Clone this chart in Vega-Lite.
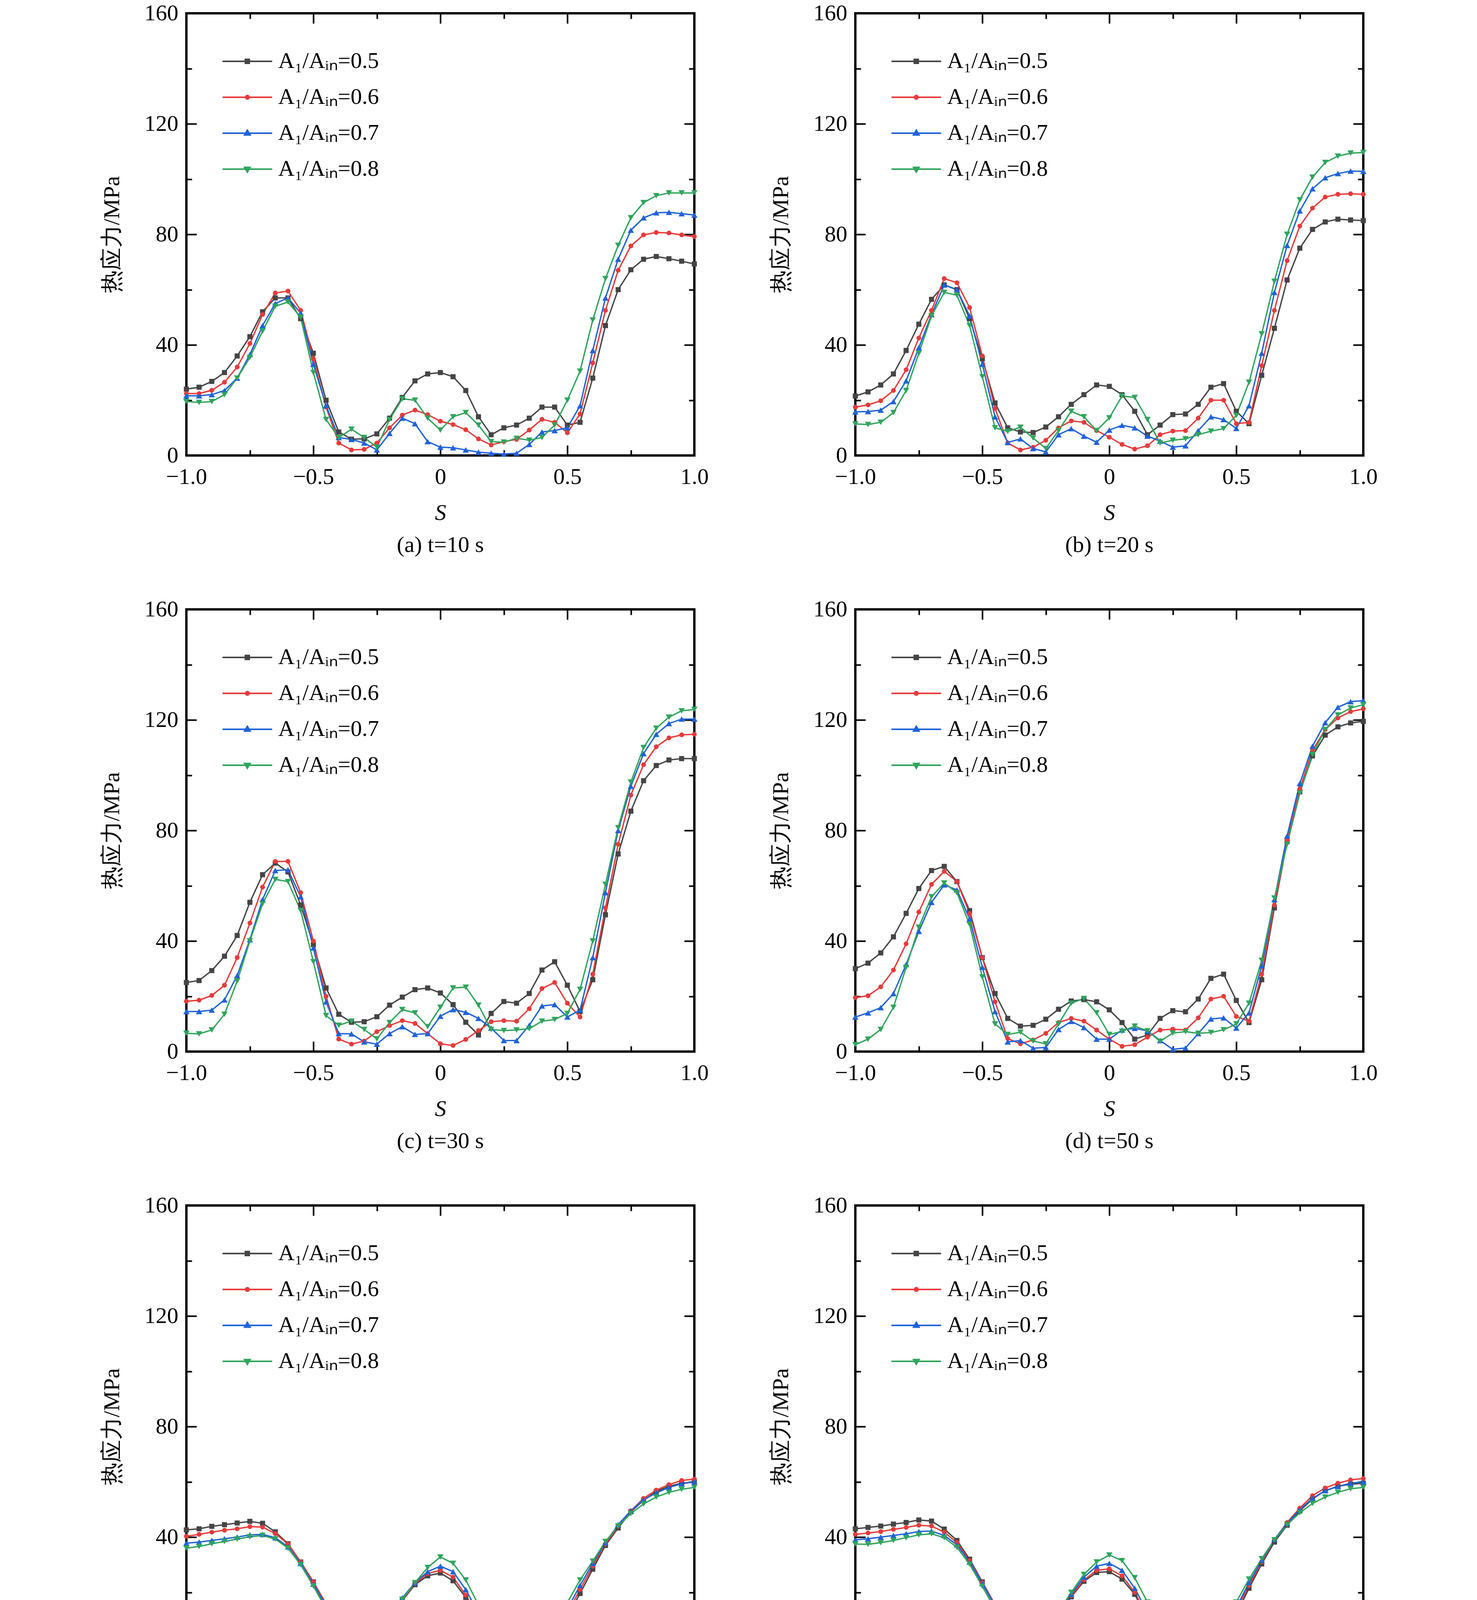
{
  "$schema": "https://vega.github.io/schema/vega-lite/v6.json",
  "background": "white",
  "padding": {"left": 255, "top": 2, "right": 10, "bottom": 0},
  "datasets": {
    "a": [
      {"k":0.5,"s":-1,"v":24},{"k":0.5,"s":-0.95,"v":24.7},{"k":0.5,"s":-0.9,"v":26.8},{"k":0.5,"s":-0.85,"v":30},{"k":0.5,"s":-0.8,"v":36},{"k":0.5,"s":-0.75,"v":43},{"k":0.5,"s":-0.7,"v":52},{"k":0.5,"s":-0.65,"v":57},{"k":0.5,"s":-0.6,"v":57},{"k":0.5,"s":-0.55,"v":49.5},{"k":0.5,"s":-0.5,"v":37},{"k":0.5,"s":-0.45,"v":20},{"k":0.5,"s":-0.4,"v":8.5},{"k":0.5,"s":-0.35,"v":5.9},{"k":0.5,"s":-0.3,"v":6},{"k":0.5,"s":-0.25,"v":7.8},{"k":0.5,"s":-0.2,"v":13.5},{"k":0.5,"s":-0.15,"v":21},{"k":0.5,"s":-0.1,"v":27},{"k":0.5,"s":-0.05,"v":29.5},{"k":0.5,"s":0,"v":30},{"k":0.5,"s":0.05,"v":28.5},{"k":0.5,"s":0.1,"v":23.5},{"k":0.5,"s":0.15,"v":14},{"k":0.5,"s":0.2,"v":7.5},{"k":0.5,"s":0.25,"v":10},{"k":0.5,"s":0.3,"v":11},{"k":0.5,"s":0.35,"v":13.5},{"k":0.5,"s":0.4,"v":17.5},{"k":0.5,"s":0.45,"v":17.5},{"k":0.5,"s":0.5,"v":11},{"k":0.5,"s":0.55,"v":12},{"k":0.5,"s":0.6,"v":28},{"k":0.5,"s":0.65,"v":47},{"k":0.5,"s":0.7,"v":60},{"k":0.5,"s":0.75,"v":67.2},{"k":0.5,"s":0.8,"v":71},{"k":0.5,"s":0.85,"v":72},{"k":0.5,"s":0.9,"v":71.2},{"k":0.5,"s":0.95,"v":70.3},{"k":0.5,"s":1,"v":69.3},
      {"k":0.6,"s":-1,"v":22.4},{"k":0.6,"s":-0.95,"v":22.4},{"k":0.6,"s":-0.9,"v":23.6},{"k":0.6,"s":-0.85,"v":26.5},{"k":0.6,"s":-0.8,"v":32},{"k":0.6,"s":-0.75,"v":40.5},{"k":0.6,"s":-0.7,"v":51},{"k":0.6,"s":-0.65,"v":58.8},{"k":0.6,"s":-0.6,"v":59.5},{"k":0.6,"s":-0.55,"v":52.5},{"k":0.6,"s":-0.5,"v":35},{"k":0.6,"s":-0.45,"v":17.5},{"k":0.6,"s":-0.4,"v":4.5},{"k":0.6,"s":-0.35,"v":2},{"k":0.6,"s":-0.3,"v":2.2},{"k":0.6,"s":-0.25,"v":4.5},{"k":0.6,"s":-0.2,"v":10},{"k":0.6,"s":-0.15,"v":14.6},{"k":0.6,"s":-0.1,"v":16.4},{"k":0.6,"s":-0.05,"v":14.8},{"k":0.6,"s":0,"v":12.4},{"k":0.6,"s":0.05,"v":11.2},{"k":0.6,"s":0.1,"v":9.3},{"k":0.6,"s":0.15,"v":6},{"k":0.6,"s":0.2,"v":3.8},{"k":0.6,"s":0.25,"v":5},{"k":0.6,"s":0.3,"v":5.8},{"k":0.6,"s":0.35,"v":9.2},{"k":0.6,"s":0.4,"v":13.1},{"k":0.6,"s":0.45,"v":12},{"k":0.6,"s":0.5,"v":8.2},{"k":0.6,"s":0.55,"v":15},{"k":0.6,"s":0.6,"v":33.5},{"k":0.6,"s":0.65,"v":52.5},{"k":0.6,"s":0.7,"v":67},{"k":0.6,"s":0.75,"v":75.8},{"k":0.6,"s":0.8,"v":79.8},{"k":0.6,"s":0.85,"v":80.7},{"k":0.6,"s":0.9,"v":80.5},{"k":0.6,"s":0.95,"v":79.8},{"k":0.6,"s":1,"v":79.2},
      {"k":0.7,"s":-1,"v":21.6},{"k":0.7,"s":-0.95,"v":21.6},{"k":0.7,"s":-0.9,"v":22},{"k":0.7,"s":-0.85,"v":23.5},{"k":0.7,"s":-0.8,"v":28},{"k":0.7,"s":-0.75,"v":36.5},{"k":0.7,"s":-0.7,"v":47},{"k":0.7,"s":-0.65,"v":55},{"k":0.7,"s":-0.6,"v":57},{"k":0.7,"s":-0.55,"v":51.5},{"k":0.7,"s":-0.5,"v":33},{"k":0.7,"s":-0.45,"v":18},{"k":0.7,"s":-0.4,"v":6.5},{"k":0.7,"s":-0.35,"v":5.8},{"k":0.7,"s":-0.3,"v":4.5},{"k":0.7,"s":-0.25,"v":2},{"k":0.7,"s":-0.2,"v":8},{"k":0.7,"s":-0.15,"v":13.5},{"k":0.7,"s":-0.1,"v":11.5},{"k":0.7,"s":-0.05,"v":5},{"k":0.7,"s":0,"v":3},{"k":0.7,"s":0.05,"v":2.8},{"k":0.7,"s":0.1,"v":2},{"k":0.7,"s":0.15,"v":1.2},{"k":0.7,"s":0.2,"v":0.8},{"k":0.7,"s":0.25,"v":0.5},{"k":0.7,"s":0.3,"v":0.8},{"k":0.7,"s":0.35,"v":4},{"k":0.7,"s":0.4,"v":8.5},{"k":0.7,"s":0.45,"v":9},{"k":0.7,"s":0.5,"v":10},{"k":0.7,"s":0.55,"v":18},{"k":0.7,"s":0.6,"v":38},{"k":0.7,"s":0.65,"v":57},{"k":0.7,"s":0.7,"v":71},{"k":0.7,"s":0.75,"v":81.5},{"k":0.7,"s":0.8,"v":86},{"k":0.7,"s":0.85,"v":87.8},{"k":0.7,"s":0.9,"v":88},{"k":0.7,"s":0.95,"v":87.5},{"k":0.7,"s":1,"v":87},
      {"k":0.8,"s":-1,"v":19.5},{"k":0.8,"s":-0.95,"v":19.2},{"k":0.8,"s":-0.9,"v":19.5},{"k":0.8,"s":-0.85,"v":22},{"k":0.8,"s":-0.8,"v":28},{"k":0.8,"s":-0.75,"v":35.5},{"k":0.8,"s":-0.7,"v":45},{"k":0.8,"s":-0.65,"v":54},{"k":0.8,"s":-0.6,"v":55.5},{"k":0.8,"s":-0.55,"v":50},{"k":0.8,"s":-0.5,"v":30},{"k":0.8,"s":-0.45,"v":13},{"k":0.8,"s":-0.4,"v":6.5},{"k":0.8,"s":-0.35,"v":9.5},{"k":0.8,"s":-0.3,"v":6.5},{"k":0.8,"s":-0.25,"v":3},{"k":0.8,"s":-0.2,"v":13},{"k":0.8,"s":-0.15,"v":20.5},{"k":0.8,"s":-0.1,"v":20},{"k":0.8,"s":-0.05,"v":13.5},{"k":0.8,"s":0,"v":9.2},{"k":0.8,"s":0.05,"v":14},{"k":0.8,"s":0.1,"v":15.5},{"k":0.8,"s":0.15,"v":11},{"k":0.8,"s":0.2,"v":5},{"k":0.8,"s":0.25,"v":4.8},{"k":0.8,"s":0.3,"v":6.2},{"k":0.8,"s":0.35,"v":5.5},{"k":0.8,"s":0.4,"v":6.5},{"k":0.8,"s":0.45,"v":11},{"k":0.8,"s":0.5,"v":20},{"k":0.8,"s":0.55,"v":30.5},{"k":0.8,"s":0.6,"v":49},{"k":0.8,"s":0.65,"v":64},{"k":0.8,"s":0.7,"v":76},{"k":0.8,"s":0.75,"v":86},{"k":0.8,"s":0.8,"v":91.5},{"k":0.8,"s":0.85,"v":94},{"k":0.8,"s":0.9,"v":95},{"k":0.8,"s":0.95,"v":95},{"k":0.8,"s":1,"v":95}
    ],
    "b": [
      {"k":0.5,"s":-1,"v":21.5},{"k":0.5,"s":-0.95,"v":23},{"k":0.5,"s":-0.9,"v":25.5},{"k":0.5,"s":-0.85,"v":29.5},{"k":0.5,"s":-0.8,"v":38},{"k":0.5,"s":-0.75,"v":47.5},{"k":0.5,"s":-0.7,"v":56.5},{"k":0.5,"s":-0.65,"v":61.7},{"k":0.5,"s":-0.6,"v":60},{"k":0.5,"s":-0.55,"v":49.5},{"k":0.5,"s":-0.5,"v":35},{"k":0.5,"s":-0.45,"v":19},{"k":0.5,"s":-0.4,"v":10},{"k":0.5,"s":-0.35,"v":8.5},{"k":0.5,"s":-0.3,"v":8.3},{"k":0.5,"s":-0.25,"v":10.3},{"k":0.5,"s":-0.2,"v":14},{"k":0.5,"s":-0.15,"v":18.5},{"k":0.5,"s":-0.1,"v":22},{"k":0.5,"s":-0.05,"v":25.5},{"k":0.5,"s":0,"v":25},{"k":0.5,"s":0.05,"v":22},{"k":0.5,"s":0.1,"v":16},{"k":0.5,"s":0.15,"v":7.5},{"k":0.5,"s":0.2,"v":11},{"k":0.5,"s":0.25,"v":14.8},{"k":0.5,"s":0.3,"v":15},{"k":0.5,"s":0.35,"v":18.5},{"k":0.5,"s":0.4,"v":24.7},{"k":0.5,"s":0.45,"v":26},{"k":0.5,"s":0.5,"v":16},{"k":0.5,"s":0.55,"v":11.5},{"k":0.5,"s":0.6,"v":29},{"k":0.5,"s":0.65,"v":46},{"k":0.5,"s":0.7,"v":63.5},{"k":0.5,"s":0.75,"v":75},{"k":0.5,"s":0.8,"v":81.8},{"k":0.5,"s":0.85,"v":84.5},{"k":0.5,"s":0.9,"v":85.5},{"k":0.5,"s":0.95,"v":85.2},{"k":0.5,"s":1,"v":85},
      {"k":0.6,"s":-1,"v":17.5},{"k":0.6,"s":-0.95,"v":18.3},{"k":0.6,"s":-0.9,"v":19.8},{"k":0.6,"s":-0.85,"v":23.5},{"k":0.6,"s":-0.8,"v":31},{"k":0.6,"s":-0.75,"v":42.5},{"k":0.6,"s":-0.7,"v":52.5},{"k":0.6,"s":-0.65,"v":64},{"k":0.6,"s":-0.6,"v":62.5},{"k":0.6,"s":-0.55,"v":53.5},{"k":0.6,"s":-0.5,"v":36},{"k":0.6,"s":-0.45,"v":17},{"k":0.6,"s":-0.4,"v":4.5},{"k":0.6,"s":-0.35,"v":2},{"k":0.6,"s":-0.3,"v":3},{"k":0.6,"s":-0.25,"v":5.5},{"k":0.6,"s":-0.2,"v":10},{"k":0.6,"s":-0.15,"v":12.5},{"k":0.6,"s":-0.1,"v":12},{"k":0.6,"s":-0.05,"v":9},{"k":0.6,"s":0,"v":6.6},{"k":0.6,"s":0.05,"v":4},{"k":0.6,"s":0.1,"v":2.3},{"k":0.6,"s":0.15,"v":3.5},{"k":0.6,"s":0.2,"v":7.5},{"k":0.6,"s":0.25,"v":8.8},{"k":0.6,"s":0.3,"v":9},{"k":0.6,"s":0.35,"v":13.5},{"k":0.6,"s":0.4,"v":20},{"k":0.6,"s":0.45,"v":20},{"k":0.6,"s":0.5,"v":11.5},{"k":0.6,"s":0.55,"v":12},{"k":0.6,"s":0.6,"v":32.5},{"k":0.6,"s":0.65,"v":52.5},{"k":0.6,"s":0.7,"v":70.5},{"k":0.6,"s":0.75,"v":83},{"k":0.6,"s":0.8,"v":89.5},{"k":0.6,"s":0.85,"v":93.5},{"k":0.6,"s":0.9,"v":94.5},{"k":0.6,"s":0.95,"v":94.7},{"k":0.6,"s":1,"v":94.5},
      {"k":0.7,"s":-1,"v":15.8},{"k":0.7,"s":-0.95,"v":15.9},{"k":0.7,"s":-0.9,"v":16.4},{"k":0.7,"s":-0.85,"v":19.5},{"k":0.7,"s":-0.8,"v":27},{"k":0.7,"s":-0.75,"v":39},{"k":0.7,"s":-0.7,"v":51},{"k":0.7,"s":-0.65,"v":61.7},{"k":0.7,"s":-0.6,"v":60},{"k":0.7,"s":-0.55,"v":50.5},{"k":0.7,"s":-0.5,"v":33},{"k":0.7,"s":-0.45,"v":14},{"k":0.7,"s":-0.4,"v":4.7},{"k":0.7,"s":-0.35,"v":6},{"k":0.7,"s":-0.3,"v":2.5},{"k":0.7,"s":-0.25,"v":1.3},{"k":0.7,"s":-0.2,"v":7.5},{"k":0.7,"s":-0.15,"v":9.7},{"k":0.7,"s":-0.1,"v":7},{"k":0.7,"s":-0.05,"v":4.8},{"k":0.7,"s":0,"v":9.2},{"k":0.7,"s":0.05,"v":10.9},{"k":0.7,"s":0.1,"v":10},{"k":0.7,"s":0.15,"v":7},{"k":0.7,"s":0.2,"v":5.2},{"k":0.7,"s":0.25,"v":3},{"k":0.7,"s":0.3,"v":3.5},{"k":0.7,"s":0.35,"v":9},{"k":0.7,"s":0.4,"v":14},{"k":0.7,"s":0.45,"v":13},{"k":0.7,"s":0.5,"v":9.8},{"k":0.7,"s":0.55,"v":18},{"k":0.7,"s":0.6,"v":37},{"k":0.7,"s":0.65,"v":59},{"k":0.7,"s":0.7,"v":76},{"k":0.7,"s":0.75,"v":88.5},{"k":0.7,"s":0.8,"v":96.5},{"k":0.7,"s":0.85,"v":100.5},{"k":0.7,"s":0.9,"v":102},{"k":0.7,"s":0.95,"v":102.9},{"k":0.7,"s":1,"v":102.8},
      {"k":0.8,"s":-1,"v":11.4},{"k":0.8,"s":-0.95,"v":11.2},{"k":0.8,"s":-0.9,"v":12},{"k":0.8,"s":-0.85,"v":15.5},{"k":0.8,"s":-0.8,"v":23.5},{"k":0.8,"s":-0.75,"v":37},{"k":0.8,"s":-0.7,"v":50.5},{"k":0.8,"s":-0.65,"v":59},{"k":0.8,"s":-0.6,"v":58},{"k":0.8,"s":-0.55,"v":47},{"k":0.8,"s":-0.5,"v":28.5},{"k":0.8,"s":-0.45,"v":10},{"k":0.8,"s":-0.4,"v":8.7},{"k":0.8,"s":-0.35,"v":10.2},{"k":0.8,"s":-0.3,"v":6.3},{"k":0.8,"s":-0.25,"v":2.5},{"k":0.8,"s":-0.2,"v":9},{"k":0.8,"s":-0.15,"v":16},{"k":0.8,"s":-0.1,"v":14},{"k":0.8,"s":-0.05,"v":9},{"k":0.8,"s":0,"v":13.6},{"k":0.8,"s":0.05,"v":21.5},{"k":0.8,"s":0.1,"v":21},{"k":0.8,"s":0.15,"v":13},{"k":0.8,"s":0.2,"v":4.5},{"k":0.8,"s":0.25,"v":5.5},{"k":0.8,"s":0.3,"v":6},{"k":0.8,"s":0.35,"v":7.5},{"k":0.8,"s":0.4,"v":8.8},{"k":0.8,"s":0.45,"v":9.7},{"k":0.8,"s":0.5,"v":14.5},{"k":0.8,"s":0.55,"v":26.5},{"k":0.8,"s":0.6,"v":44},{"k":0.8,"s":0.65,"v":63},{"k":0.8,"s":0.7,"v":80},{"k":0.8,"s":0.75,"v":92.5},{"k":0.8,"s":0.8,"v":100.7},{"k":0.8,"s":0.85,"v":106},{"k":0.8,"s":0.9,"v":108.3},{"k":0.8,"s":0.95,"v":109.4},{"k":0.8,"s":1,"v":109.6}
    ],
    "c": [
      {"k":0.5,"s":-1,"v":25},{"k":0.5,"s":-0.95,"v":25.7},{"k":0.5,"s":-0.9,"v":29.3},{"k":0.5,"s":-0.85,"v":34.5},{"k":0.5,"s":-0.8,"v":42},{"k":0.5,"s":-0.75,"v":54},{"k":0.5,"s":-0.7,"v":64},{"k":0.5,"s":-0.65,"v":68.2},{"k":0.5,"s":-0.6,"v":65},{"k":0.5,"s":-0.55,"v":53},{"k":0.5,"s":-0.5,"v":38.7},{"k":0.5,"s":-0.45,"v":23},{"k":0.5,"s":-0.4,"v":13.5},{"k":0.5,"s":-0.35,"v":10.6},{"k":0.5,"s":-0.3,"v":10.8},{"k":0.5,"s":-0.25,"v":12.6},{"k":0.5,"s":-0.2,"v":16.8},{"k":0.5,"s":-0.15,"v":19.7},{"k":0.5,"s":-0.1,"v":22.4},{"k":0.5,"s":-0.05,"v":23},{"k":0.5,"s":0,"v":21.2},{"k":0.5,"s":0.05,"v":17},{"k":0.5,"s":0.1,"v":10.6},{"k":0.5,"s":0.15,"v":6},{"k":0.5,"s":0.2,"v":13.8},{"k":0.5,"s":0.25,"v":18.1},{"k":0.5,"s":0.3,"v":17.5},{"k":0.5,"s":0.35,"v":21},{"k":0.5,"s":0.4,"v":29.5},{"k":0.5,"s":0.45,"v":32.5},{"k":0.5,"s":0.5,"v":24},{"k":0.5,"s":0.55,"v":14.5},{"k":0.5,"s":0.6,"v":26},{"k":0.5,"s":0.65,"v":49.5},{"k":0.5,"s":0.7,"v":71.5},{"k":0.5,"s":0.75,"v":87},{"k":0.5,"s":0.8,"v":98},{"k":0.5,"s":0.85,"v":103.5},{"k":0.5,"s":0.9,"v":105.5},{"k":0.5,"s":0.95,"v":106},{"k":0.5,"s":1,"v":106},
      {"k":0.6,"s":-1,"v":18.2},{"k":0.6,"s":-0.95,"v":18.6},{"k":0.6,"s":-0.9,"v":20.3},{"k":0.6,"s":-0.85,"v":24},{"k":0.6,"s":-0.8,"v":34},{"k":0.6,"s":-0.75,"v":46.5},{"k":0.6,"s":-0.7,"v":59.5},{"k":0.6,"s":-0.65,"v":68.8},{"k":0.6,"s":-0.6,"v":68.8},{"k":0.6,"s":-0.55,"v":57.5},{"k":0.6,"s":-0.5,"v":40},{"k":0.6,"s":-0.45,"v":20},{"k":0.6,"s":-0.4,"v":4.5},{"k":0.6,"s":-0.35,"v":2.7},{"k":0.6,"s":-0.3,"v":3.8},{"k":0.6,"s":-0.25,"v":7.2},{"k":0.6,"s":-0.2,"v":9.4},{"k":0.6,"s":-0.15,"v":11.2},{"k":0.6,"s":-0.1,"v":10.2},{"k":0.6,"s":-0.05,"v":6.5},{"k":0.6,"s":0,"v":2.8},{"k":0.6,"s":0.05,"v":2.2},{"k":0.6,"s":0.1,"v":4.4},{"k":0.6,"s":0.15,"v":7.6},{"k":0.6,"s":0.2,"v":10.8},{"k":0.6,"s":0.25,"v":11.2},{"k":0.6,"s":0.3,"v":11},{"k":0.6,"s":0.35,"v":15.5},{"k":0.6,"s":0.4,"v":22.8},{"k":0.6,"s":0.45,"v":25},{"k":0.6,"s":0.5,"v":17.5},{"k":0.6,"s":0.55,"v":12.5},{"k":0.6,"s":0.6,"v":28},{"k":0.6,"s":0.65,"v":52},{"k":0.6,"s":0.7,"v":75},{"k":0.6,"s":0.75,"v":92.8},{"k":0.6,"s":0.8,"v":103.8},{"k":0.6,"s":0.85,"v":110.3},{"k":0.6,"s":0.9,"v":113.5},{"k":0.6,"s":0.95,"v":114.6},{"k":0.6,"s":1,"v":114.8},
      {"k":0.7,"s":-1,"v":14.5},{"k":0.7,"s":-0.95,"v":14.5},{"k":0.7,"s":-0.9,"v":15},{"k":0.7,"s":-0.85,"v":18.7},{"k":0.7,"s":-0.8,"v":27.5},{"k":0.7,"s":-0.75,"v":40.5},{"k":0.7,"s":-0.7,"v":55},{"k":0.7,"s":-0.65,"v":65.5},{"k":0.7,"s":-0.6,"v":65.8},{"k":0.7,"s":-0.55,"v":56},{"k":0.7,"s":-0.5,"v":37.5},{"k":0.7,"s":-0.45,"v":18},{"k":0.7,"s":-0.4,"v":6.5},{"k":0.7,"s":-0.35,"v":6.4},{"k":0.7,"s":-0.3,"v":3.5},{"k":0.7,"s":-0.25,"v":2.7},{"k":0.7,"s":-0.2,"v":6.5},{"k":0.7,"s":-0.15,"v":9},{"k":0.7,"s":-0.1,"v":6.2},{"k":0.7,"s":-0.05,"v":6.5},{"k":0.7,"s":0,"v":12.8},{"k":0.7,"s":0.05,"v":15.2},{"k":0.7,"s":0.1,"v":14.2},{"k":0.7,"s":0.15,"v":12},{"k":0.7,"s":0.2,"v":8.5},{"k":0.7,"s":0.25,"v":4},{"k":0.7,"s":0.3,"v":4},{"k":0.7,"s":0.35,"v":9.5},{"k":0.7,"s":0.4,"v":16.5},{"k":0.7,"s":0.45,"v":17},{"k":0.7,"s":0.5,"v":12.5},{"k":0.7,"s":0.55,"v":15},{"k":0.7,"s":0.6,"v":34},{"k":0.7,"s":0.65,"v":57.5},{"k":0.7,"s":0.7,"v":80},{"k":0.7,"s":0.75,"v":96},{"k":0.7,"s":0.8,"v":107.8},{"k":0.7,"s":0.85,"v":114.8},{"k":0.7,"s":0.9,"v":118.7},{"k":0.7,"s":0.95,"v":120.3},{"k":0.7,"s":1,"v":120.3},
      {"k":0.8,"s":-1,"v":6.6},{"k":0.8,"s":-0.95,"v":6.4},{"k":0.8,"s":-0.9,"v":7.8},{"k":0.8,"s":-0.85,"v":13.5},{"k":0.8,"s":-0.8,"v":25.5},{"k":0.8,"s":-0.75,"v":40},{"k":0.8,"s":-0.7,"v":53.5},{"k":0.8,"s":-0.65,"v":62.3},{"k":0.8,"s":-0.6,"v":61.5},{"k":0.8,"s":-0.55,"v":51},{"k":0.8,"s":-0.5,"v":32.5},{"k":0.8,"s":-0.45,"v":13},{"k":0.8,"s":-0.4,"v":9.5},{"k":0.8,"s":-0.35,"v":11},{"k":0.8,"s":-0.3,"v":8},{"k":0.8,"s":-0.25,"v":4.6},{"k":0.8,"s":-0.2,"v":10.5},{"k":0.8,"s":-0.15,"v":15.2},{"k":0.8,"s":-0.1,"v":14},{"k":0.8,"s":-0.05,"v":9},{"k":0.8,"s":0,"v":16},{"k":0.8,"s":0.05,"v":23},{"k":0.8,"s":0.1,"v":23.3},{"k":0.8,"s":0.15,"v":16.8},{"k":0.8,"s":0.2,"v":8},{"k":0.8,"s":0.25,"v":7.6},{"k":0.8,"s":0.3,"v":7.8},{"k":0.8,"s":0.35,"v":8.3},{"k":0.8,"s":0.4,"v":11},{"k":0.8,"s":0.45,"v":11.6},{"k":0.8,"s":0.5,"v":13.8},{"k":0.8,"s":0.55,"v":22.5},{"k":0.8,"s":0.6,"v":40},{"k":0.8,"s":0.65,"v":60.5},{"k":0.8,"s":0.7,"v":81},{"k":0.8,"s":0.75,"v":97.5},{"k":0.8,"s":0.8,"v":110},{"k":0.8,"s":0.85,"v":117},{"k":0.8,"s":0.9,"v":121},{"k":0.8,"s":0.95,"v":123.3},{"k":0.8,"s":1,"v":123.8}
    ],
    "d": [
      {"k":0.5,"s":-1,"v":30},{"k":0.5,"s":-0.95,"v":32},{"k":0.5,"s":-0.9,"v":35.7},{"k":0.5,"s":-0.85,"v":41.5},{"k":0.5,"s":-0.8,"v":50},{"k":0.5,"s":-0.75,"v":59},{"k":0.5,"s":-0.7,"v":65.5},{"k":0.5,"s":-0.65,"v":67},{"k":0.5,"s":-0.6,"v":61.5},{"k":0.5,"s":-0.55,"v":51},{"k":0.5,"s":-0.5,"v":34},{"k":0.5,"s":-0.45,"v":21},{"k":0.5,"s":-0.4,"v":12},{"k":0.5,"s":-0.35,"v":9.2},{"k":0.5,"s":-0.3,"v":9.5},{"k":0.5,"s":-0.25,"v":11.7},{"k":0.5,"s":-0.2,"v":15.3},{"k":0.5,"s":-0.15,"v":18.3},{"k":0.5,"s":-0.1,"v":18.8},{"k":0.5,"s":-0.05,"v":18},{"k":0.5,"s":0,"v":15.1},{"k":0.5,"s":0.05,"v":10.5},{"k":0.5,"s":0.1,"v":4.5},{"k":0.5,"s":0.15,"v":6},{"k":0.5,"s":0.2,"v":12},{"k":0.5,"s":0.25,"v":14.8},{"k":0.5,"s":0.3,"v":14.4},{"k":0.5,"s":0.35,"v":19},{"k":0.5,"s":0.4,"v":26.5},{"k":0.5,"s":0.45,"v":28},{"k":0.5,"s":0.5,"v":18.5},{"k":0.5,"s":0.55,"v":10.5},{"k":0.5,"s":0.6,"v":26},{"k":0.5,"s":0.65,"v":52},{"k":0.5,"s":0.7,"v":76},{"k":0.5,"s":0.75,"v":94},{"k":0.5,"s":0.8,"v":107},{"k":0.5,"s":0.85,"v":114.5},{"k":0.5,"s":0.9,"v":117.5},{"k":0.5,"s":0.95,"v":118.9},{"k":0.5,"s":1,"v":119.5},
      {"k":0.6,"s":-1,"v":19.5},{"k":0.6,"s":-0.95,"v":20.2},{"k":0.6,"s":-0.9,"v":23.4},{"k":0.6,"s":-0.85,"v":29.5},{"k":0.6,"s":-0.8,"v":39},{"k":0.6,"s":-0.75,"v":50.5},{"k":0.6,"s":-0.7,"v":60.5},{"k":0.6,"s":-0.65,"v":65.2},{"k":0.6,"s":-0.6,"v":61.5},{"k":0.6,"s":-0.55,"v":50},{"k":0.6,"s":-0.5,"v":34},{"k":0.6,"s":-0.45,"v":18},{"k":0.6,"s":-0.4,"v":4.7},{"k":0.6,"s":-0.35,"v":2.8},{"k":0.6,"s":-0.3,"v":4.2},{"k":0.6,"s":-0.25,"v":6.6},{"k":0.6,"s":-0.2,"v":10.5},{"k":0.6,"s":-0.15,"v":12},{"k":0.6,"s":-0.1,"v":11},{"k":0.6,"s":-0.05,"v":7.8},{"k":0.6,"s":0,"v":4.5},{"k":0.6,"s":0.05,"v":1.9},{"k":0.6,"s":0.1,"v":2.5},{"k":0.6,"s":0.15,"v":5.2},{"k":0.6,"s":0.2,"v":7.8},{"k":0.6,"s":0.25,"v":8.1},{"k":0.6,"s":0.3,"v":7.8},{"k":0.6,"s":0.35,"v":12.2},{"k":0.6,"s":0.4,"v":19},{"k":0.6,"s":0.45,"v":20},{"k":0.6,"s":0.5,"v":12.7},{"k":0.6,"s":0.55,"v":11},{"k":0.6,"s":0.6,"v":28},{"k":0.6,"s":0.65,"v":53},{"k":0.6,"s":0.7,"v":76.5},{"k":0.6,"s":0.75,"v":95},{"k":0.6,"s":0.8,"v":109},{"k":0.6,"s":0.85,"v":116.5},{"k":0.6,"s":0.9,"v":120.7},{"k":0.6,"s":0.95,"v":123},{"k":0.6,"s":1,"v":124},
      {"k":0.7,"s":-1,"v":12.5},{"k":0.7,"s":-0.95,"v":14},{"k":0.7,"s":-0.9,"v":15.9},{"k":0.7,"s":-0.85,"v":21},{"k":0.7,"s":-0.8,"v":31.5},{"k":0.7,"s":-0.75,"v":43.5},{"k":0.7,"s":-0.7,"v":54},{"k":0.7,"s":-0.65,"v":60.3},{"k":0.7,"s":-0.6,"v":58.5},{"k":0.7,"s":-0.55,"v":48},{"k":0.7,"s":-0.5,"v":30.5},{"k":0.7,"s":-0.45,"v":14.5},{"k":0.7,"s":-0.4,"v":3.5},{"k":0.7,"s":-0.35,"v":4},{"k":0.7,"s":-0.3,"v":1.2},{"k":0.7,"s":-0.25,"v":1.5},{"k":0.7,"s":-0.2,"v":8},{"k":0.7,"s":-0.15,"v":10.9},{"k":0.7,"s":-0.1,"v":8.7},{"k":0.7,"s":-0.05,"v":4.5},{"k":0.7,"s":0,"v":4.5},{"k":0.7,"s":0.05,"v":7.8},{"k":0.7,"s":0.1,"v":8.4},{"k":0.7,"s":0.15,"v":7.5},{"k":0.7,"s":0.2,"v":4},{"k":0.7,"s":0.25,"v":0.8},{"k":0.7,"s":0.3,"v":1.3},{"k":0.7,"s":0.35,"v":6.5},{"k":0.7,"s":0.4,"v":11.8},{"k":0.7,"s":0.45,"v":12.2},{"k":0.7,"s":0.5,"v":8.5},{"k":0.7,"s":0.55,"v":14},{"k":0.7,"s":0.6,"v":31},{"k":0.7,"s":0.65,"v":55},{"k":0.7,"s":0.7,"v":78},{"k":0.7,"s":0.75,"v":97},{"k":0.7,"s":0.8,"v":110.5},{"k":0.7,"s":0.85,"v":119},{"k":0.7,"s":0.9,"v":124.6},{"k":0.7,"s":0.95,"v":126.6},{"k":0.7,"s":1,"v":127},
      {"k":0.8,"s":-1,"v":2.5},{"k":0.8,"s":-0.95,"v":4.5},{"k":0.8,"s":-0.9,"v":8},{"k":0.8,"s":-0.85,"v":16},{"k":0.8,"s":-0.8,"v":30.5},{"k":0.8,"s":-0.75,"v":45},{"k":0.8,"s":-0.7,"v":56},{"k":0.8,"s":-0.65,"v":61},{"k":0.8,"s":-0.6,"v":57.5},{"k":0.8,"s":-0.55,"v":46},{"k":0.8,"s":-0.5,"v":27},{"k":0.8,"s":-0.45,"v":10},{"k":0.8,"s":-0.4,"v":6.2},{"k":0.8,"s":-0.35,"v":7},{"k":0.8,"s":-0.3,"v":3.8},{"k":0.8,"s":-0.25,"v":2.8},{"k":0.8,"s":-0.2,"v":10},{"k":0.8,"s":-0.15,"v":17.5},{"k":0.8,"s":-0.1,"v":19.2},{"k":0.8,"s":-0.05,"v":14},{"k":0.8,"s":0,"v":6.2},{"k":0.8,"s":0.05,"v":7.3},{"k":0.8,"s":0.1,"v":9.2},{"k":0.8,"s":0.15,"v":7.5},{"k":0.8,"s":0.2,"v":3.7},{"k":0.8,"s":0.25,"v":6.7},{"k":0.8,"s":0.3,"v":7.2},{"k":0.8,"s":0.35,"v":6.6},{"k":0.8,"s":0.4,"v":6.9},{"k":0.8,"s":0.45,"v":7.9},{"k":0.8,"s":0.5,"v":10},{"k":0.8,"s":0.55,"v":17.5},{"k":0.8,"s":0.6,"v":33},{"k":0.8,"s":0.65,"v":55.5},{"k":0.8,"s":0.7,"v":75},{"k":0.8,"s":0.75,"v":93.5},{"k":0.8,"s":0.8,"v":107.5},{"k":0.8,"s":0.85,"v":116.5},{"k":0.8,"s":0.9,"v":121.8},{"k":0.8,"s":0.95,"v":124.3},{"k":0.8,"s":1,"v":125.5}
    ],
    "e": [
      {"k":0.5,"s":-1,"v":42.6},{"k":0.5,"s":-0.95,"v":43},{"k":0.5,"s":-0.9,"v":43.9},{"k":0.5,"s":-0.85,"v":44.5},{"k":0.5,"s":-0.8,"v":45.1},{"k":0.5,"s":-0.75,"v":45.7},{"k":0.5,"s":-0.7,"v":45},{"k":0.5,"s":-0.65,"v":41.9},{"k":0.5,"s":-0.6,"v":37.6},{"k":0.5,"s":-0.55,"v":31},{"k":0.5,"s":-0.5,"v":23.8},{"k":0.5,"s":-0.45,"v":15.8},{"k":0.5,"s":-0.4,"v":7.5},{"k":0.5,"s":-0.35,"v":3.8},{"k":0.5,"s":-0.3,"v":4},{"k":0.5,"s":-0.25,"v":5.7},{"k":0.5,"s":-0.2,"v":10.6},{"k":0.5,"s":-0.15,"v":17},{"k":0.5,"s":-0.1,"v":22.8},{"k":0.5,"s":-0.05,"v":26},{"k":0.5,"s":0,"v":27},{"k":0.5,"s":0.05,"v":24.2},{"k":0.5,"s":0.1,"v":18.2},{"k":0.5,"s":0.15,"v":10.5},{"k":0.5,"s":0.2,"v":4},{"k":0.5,"s":0.25,"v":2},{"k":0.5,"s":0.3,"v":3.2},{"k":0.5,"s":0.35,"v":5},{"k":0.5,"s":0.4,"v":4.7},{"k":0.5,"s":0.45,"v":4.8},{"k":0.5,"s":0.5,"v":11.3},{"k":0.5,"s":0.55,"v":19.6},{"k":0.5,"s":0.6,"v":28.4},{"k":0.5,"s":0.65,"v":37},{"k":0.5,"s":0.7,"v":43.3},{"k":0.5,"s":0.75,"v":49.2},{"k":0.5,"s":0.8,"v":53.3},{"k":0.5,"s":0.85,"v":56.5},{"k":0.5,"s":0.9,"v":58.4},{"k":0.5,"s":0.95,"v":59.5},{"k":0.5,"s":1,"v":60},
      {"k":0.6,"s":-1,"v":40.3},{"k":0.6,"s":-0.95,"v":41},{"k":0.6,"s":-0.9,"v":41.8},{"k":0.6,"s":-0.85,"v":42.5},{"k":0.6,"s":-0.8,"v":43},{"k":0.6,"s":-0.75,"v":43.8},{"k":0.6,"s":-0.7,"v":43.6},{"k":0.6,"s":-0.65,"v":41.3},{"k":0.6,"s":-0.6,"v":37.5},{"k":0.6,"s":-0.55,"v":31},{"k":0.6,"s":-0.5,"v":23.8},{"k":0.6,"s":-0.45,"v":15.5},{"k":0.6,"s":-0.4,"v":7.3},{"k":0.6,"s":-0.35,"v":3.5},{"k":0.6,"s":-0.3,"v":3.8},{"k":0.6,"s":-0.25,"v":5.7},{"k":0.6,"s":-0.2,"v":10.8},{"k":0.6,"s":-0.15,"v":17.3},{"k":0.6,"s":-0.1,"v":23.2},{"k":0.6,"s":-0.05,"v":26.8},{"k":0.6,"s":0,"v":28},{"k":0.6,"s":0.05,"v":25.5},{"k":0.6,"s":0.1,"v":19},{"k":0.6,"s":0.15,"v":11},{"k":0.6,"s":0.2,"v":3.5},{"k":0.6,"s":0.25,"v":1},{"k":0.6,"s":0.3,"v":1.7},{"k":0.6,"s":0.35,"v":3},{"k":0.6,"s":0.4,"v":3},{"k":0.6,"s":0.45,"v":4},{"k":0.6,"s":0.5,"v":12.5},{"k":0.6,"s":0.55,"v":21},{"k":0.6,"s":0.6,"v":29.5},{"k":0.6,"s":0.65,"v":37.5},{"k":0.6,"s":0.7,"v":44},{"k":0.6,"s":0.75,"v":49.5},{"k":0.6,"s":0.8,"v":54},{"k":0.6,"s":0.85,"v":57},{"k":0.6,"s":0.9,"v":59},{"k":0.6,"s":0.95,"v":60.5},{"k":0.6,"s":1,"v":61},
      {"k":0.7,"s":-1,"v":37.8},{"k":0.7,"s":-0.95,"v":38.2},{"k":0.7,"s":-0.9,"v":38.8},{"k":0.7,"s":-0.85,"v":39.4},{"k":0.7,"s":-0.8,"v":40},{"k":0.7,"s":-0.75,"v":40.8},{"k":0.7,"s":-0.7,"v":41},{"k":0.7,"s":-0.65,"v":39.8},{"k":0.7,"s":-0.6,"v":36.5},{"k":0.7,"s":-0.55,"v":30.5},{"k":0.7,"s":-0.5,"v":23},{"k":0.7,"s":-0.45,"v":15},{"k":0.7,"s":-0.4,"v":7},{"k":0.7,"s":-0.35,"v":3},{"k":0.7,"s":-0.3,"v":3.5},{"k":0.7,"s":-0.25,"v":5.5},{"k":0.7,"s":-0.2,"v":11},{"k":0.7,"s":-0.15,"v":18},{"k":0.7,"s":-0.1,"v":23.5},{"k":0.7,"s":-0.05,"v":27.5},{"k":0.7,"s":0,"v":29.5},{"k":0.7,"s":0.05,"v":27.5},{"k":0.7,"s":0.1,"v":21},{"k":0.7,"s":0.15,"v":12.5},{"k":0.7,"s":0.2,"v":5.5},{"k":0.7,"s":0.25,"v":1.5},{"k":0.7,"s":0.3,"v":1},{"k":0.7,"s":0.35,"v":1.3},{"k":0.7,"s":0.4,"v":1.5},{"k":0.7,"s":0.45,"v":5},{"k":0.7,"s":0.5,"v":14},{"k":0.7,"s":0.55,"v":22.5},{"k":0.7,"s":0.6,"v":30.5},{"k":0.7,"s":0.65,"v":38},{"k":0.7,"s":0.7,"v":44.5},{"k":0.7,"s":0.75,"v":49.5},{"k":0.7,"s":0.8,"v":53.5},{"k":0.7,"s":0.85,"v":56},{"k":0.7,"s":0.9,"v":58},{"k":0.7,"s":0.95,"v":59.3},{"k":0.7,"s":1,"v":60},
      {"k":0.8,"s":-1,"v":36},{"k":0.8,"s":-0.95,"v":36.6},{"k":0.8,"s":-0.9,"v":37.6},{"k":0.8,"s":-0.85,"v":38.4},{"k":0.8,"s":-0.8,"v":39.3},{"k":0.8,"s":-0.75,"v":40.1},{"k":0.8,"s":-0.7,"v":40.6},{"k":0.8,"s":-0.65,"v":39.3},{"k":0.8,"s":-0.6,"v":36},{"k":0.8,"s":-0.55,"v":30},{"k":0.8,"s":-0.5,"v":22.3},{"k":0.8,"s":-0.45,"v":14},{"k":0.8,"s":-0.4,"v":6.5},{"k":0.8,"s":-0.35,"v":3},{"k":0.8,"s":-0.3,"v":3.6},{"k":0.8,"s":-0.25,"v":6},{"k":0.8,"s":-0.2,"v":11.5},{"k":0.8,"s":-0.15,"v":17.5},{"k":0.8,"s":-0.1,"v":23.5},{"k":0.8,"s":-0.05,"v":29},{"k":0.8,"s":0,"v":32.8},{"k":0.8,"s":0.05,"v":30.5},{"k":0.8,"s":0.1,"v":24.5},{"k":0.8,"s":0.15,"v":15.5},{"k":0.8,"s":0.2,"v":8.5},{"k":0.8,"s":0.25,"v":3},{"k":0.8,"s":0.3,"v":1.9},{"k":0.8,"s":0.35,"v":1.9},{"k":0.8,"s":0.4,"v":2},{"k":0.8,"s":0.45,"v":8.5},{"k":0.8,"s":0.5,"v":16.3},{"k":0.8,"s":0.55,"v":24.5},{"k":0.8,"s":0.6,"v":31.3},{"k":0.8,"s":0.65,"v":38.4},{"k":0.8,"s":0.7,"v":44},{"k":0.8,"s":0.75,"v":48.5},{"k":0.8,"s":0.8,"v":52},{"k":0.8,"s":0.85,"v":54.5},{"k":0.8,"s":0.9,"v":56.2},{"k":0.8,"s":0.95,"v":57.3},{"k":0.8,"s":1,"v":58}
    ],
    "f": [
      {"k":0.5,"s":-1,"v":43},{"k":0.5,"s":-0.95,"v":43.5},{"k":0.5,"s":-0.9,"v":44},{"k":0.5,"s":-0.85,"v":44.7},{"k":0.5,"s":-0.8,"v":45.3},{"k":0.5,"s":-0.75,"v":46.2},{"k":0.5,"s":-0.7,"v":45.8},{"k":0.5,"s":-0.65,"v":42.9},{"k":0.5,"s":-0.6,"v":38.8},{"k":0.5,"s":-0.55,"v":32},{"k":0.5,"s":-0.5,"v":23.8},{"k":0.5,"s":-0.45,"v":15.5},{"k":0.5,"s":-0.4,"v":7.4},{"k":0.5,"s":-0.35,"v":4.3},{"k":0.5,"s":-0.3,"v":4.8},{"k":0.5,"s":-0.25,"v":6.6},{"k":0.5,"s":-0.2,"v":11.5},{"k":0.5,"s":-0.15,"v":18.4},{"k":0.5,"s":-0.1,"v":24},{"k":0.5,"s":-0.05,"v":27.2},{"k":0.5,"s":0,"v":27.5},{"k":0.5,"s":0.05,"v":24.8},{"k":0.5,"s":0.1,"v":19.3},{"k":0.5,"s":0.15,"v":10.5},{"k":0.5,"s":0.2,"v":4.2},{"k":0.5,"s":0.25,"v":1.9},{"k":0.5,"s":0.3,"v":4.3},{"k":0.5,"s":0.35,"v":5.6},{"k":0.5,"s":0.4,"v":5.4},{"k":0.5,"s":0.45,"v":5.5},{"k":0.5,"s":0.5,"v":12.2},{"k":0.5,"s":0.55,"v":21.5},{"k":0.5,"s":0.6,"v":30.3},{"k":0.5,"s":0.65,"v":38.2},{"k":0.5,"s":0.7,"v":44.3},{"k":0.5,"s":0.75,"v":49.5},{"k":0.5,"s":0.8,"v":53.8},{"k":0.5,"s":0.85,"v":56.8},{"k":0.5,"s":0.9,"v":58.4},{"k":0.5,"s":0.95,"v":59.1},{"k":0.5,"s":1,"v":59.5},
      {"k":0.6,"s":-1,"v":41},{"k":0.6,"s":-0.95,"v":41.5},{"k":0.6,"s":-0.9,"v":42},{"k":0.6,"s":-0.85,"v":42.8},{"k":0.6,"s":-0.8,"v":43.5},{"k":0.6,"s":-0.75,"v":44.3},{"k":0.6,"s":-0.7,"v":44},{"k":0.6,"s":-0.65,"v":41.8},{"k":0.6,"s":-0.6,"v":38},{"k":0.6,"s":-0.55,"v":31.5},{"k":0.6,"s":-0.5,"v":23.5},{"k":0.6,"s":-0.45,"v":15.3},{"k":0.6,"s":-0.4,"v":7.2},{"k":0.6,"s":-0.35,"v":4},{"k":0.6,"s":-0.3,"v":4.5},{"k":0.6,"s":-0.25,"v":6.5},{"k":0.6,"s":-0.2,"v":11.7},{"k":0.6,"s":-0.15,"v":18.8},{"k":0.6,"s":-0.1,"v":24.5},{"k":0.6,"s":-0.05,"v":28},{"k":0.6,"s":0,"v":28.5},{"k":0.6,"s":0.05,"v":26},{"k":0.6,"s":0.1,"v":20},{"k":0.6,"s":0.15,"v":11.3},{"k":0.6,"s":0.2,"v":4},{"k":0.6,"s":0.25,"v":1.2},{"k":0.6,"s":0.3,"v":2},{"k":0.6,"s":0.35,"v":3.5},{"k":0.6,"s":0.4,"v":3.6},{"k":0.6,"s":0.45,"v":4.5},{"k":0.6,"s":0.5,"v":13.5},{"k":0.6,"s":0.55,"v":22.5},{"k":0.6,"s":0.6,"v":31},{"k":0.6,"s":0.65,"v":39},{"k":0.6,"s":0.7,"v":45.3},{"k":0.6,"s":0.75,"v":50.5},{"k":0.6,"s":0.8,"v":55},{"k":0.6,"s":0.85,"v":57.8},{"k":0.6,"s":0.9,"v":59.5},{"k":0.6,"s":0.95,"v":60.7},{"k":0.6,"s":1,"v":61.2},
      {"k":0.7,"s":-1,"v":39},{"k":0.7,"s":-0.95,"v":39.4},{"k":0.7,"s":-0.9,"v":40},{"k":0.7,"s":-0.85,"v":40.6},{"k":0.7,"s":-0.8,"v":41.2},{"k":0.7,"s":-0.75,"v":42},{"k":0.7,"s":-0.7,"v":42.2},{"k":0.7,"s":-0.65,"v":40.6},{"k":0.7,"s":-0.6,"v":37.2},{"k":0.7,"s":-0.55,"v":31},{"k":0.7,"s":-0.5,"v":23.2},{"k":0.7,"s":-0.45,"v":15},{"k":0.7,"s":-0.4,"v":7},{"k":0.7,"s":-0.35,"v":3.7},{"k":0.7,"s":-0.3,"v":4.3},{"k":0.7,"s":-0.25,"v":6.5},{"k":0.7,"s":-0.2,"v":12},{"k":0.7,"s":-0.15,"v":19.3},{"k":0.7,"s":-0.1,"v":25.5},{"k":0.7,"s":-0.05,"v":29.5},{"k":0.7,"s":0,"v":30.5},{"k":0.7,"s":0.05,"v":28},{"k":0.7,"s":0.1,"v":21.5},{"k":0.7,"s":0.15,"v":12.8},{"k":0.7,"s":0.2,"v":5},{"k":0.7,"s":0.25,"v":1},{"k":0.7,"s":0.3,"v":1},{"k":0.7,"s":0.35,"v":1.2},{"k":0.7,"s":0.4,"v":1.8},{"k":0.7,"s":0.45,"v":5.5},{"k":0.7,"s":0.5,"v":14.5},{"k":0.7,"s":0.55,"v":23.5},{"k":0.7,"s":0.6,"v":31.5},{"k":0.7,"s":0.65,"v":39.2},{"k":0.7,"s":0.7,"v":45},{"k":0.7,"s":0.75,"v":50},{"k":0.7,"s":0.8,"v":54},{"k":0.7,"s":0.85,"v":56.8},{"k":0.7,"s":0.9,"v":58.3},{"k":0.7,"s":0.95,"v":59.5},{"k":0.7,"s":1,"v":60},
      {"k":0.8,"s":-1,"v":37.5},{"k":0.8,"s":-0.95,"v":37.4},{"k":0.8,"s":-0.9,"v":38},{"k":0.8,"s":-0.85,"v":38.8},{"k":0.8,"s":-0.8,"v":39.8},{"k":0.8,"s":-0.75,"v":40.8},{"k":0.8,"s":-0.7,"v":41.2},{"k":0.8,"s":-0.65,"v":39.8},{"k":0.8,"s":-0.6,"v":36.3},{"k":0.8,"s":-0.55,"v":30.2},{"k":0.8,"s":-0.5,"v":22.2},{"k":0.8,"s":-0.45,"v":13.8},{"k":0.8,"s":-0.4,"v":6.2},{"k":0.8,"s":-0.35,"v":3},{"k":0.8,"s":-0.3,"v":4},{"k":0.8,"s":-0.25,"v":6.8},{"k":0.8,"s":-0.2,"v":13},{"k":0.8,"s":-0.15,"v":20},{"k":0.8,"s":-0.1,"v":26.5},{"k":0.8,"s":-0.05,"v":31},{"k":0.8,"s":0,"v":33.5},{"k":0.8,"s":0.05,"v":31.5},{"k":0.8,"s":0.1,"v":25.3},{"k":0.8,"s":0.15,"v":16.5},{"k":0.8,"s":0.2,"v":8.5},{"k":0.8,"s":0.25,"v":3},{"k":0.8,"s":0.3,"v":2},{"k":0.8,"s":0.35,"v":1.8},{"k":0.8,"s":0.4,"v":2.5},{"k":0.8,"s":0.45,"v":8.5},{"k":0.8,"s":0.5,"v":16.5},{"k":0.8,"s":0.55,"v":24.8},{"k":0.8,"s":0.6,"v":32.2},{"k":0.8,"s":0.65,"v":39},{"k":0.8,"s":0.7,"v":44.5},{"k":0.8,"s":0.75,"v":48.8},{"k":0.8,"s":0.8,"v":52.2},{"k":0.8,"s":0.85,"v":54.5},{"k":0.8,"s":0.9,"v":56.2},{"k":0.8,"s":0.95,"v":57.5},{"k":0.8,"s":1,"v":58}
    ]
  },
  "config": {
    "font": "Liberation Serif",
    "view": {"stroke": "#000000", "strokeWidth": 6},
    "axis": {
      "domain": false, "grid": false,
      "labelFont": "Liberation Serif", "labelFontSize": 58, "labelColor": "#000000",
      "titleFont": "Liberation Serif", "titleFontSize": 58, "titleFontWeight": "normal", "titleColor": "#000000",
      "tickColor": "#000000", "tickWidth": 4, "labelOverlap": false, "labelFlush": false
    },
    "axisX": {"labelPadding": 52, "titlePadding": 22, "titleFontStyle": "italic"},
    "axisY": {"labelPadding": 47, "titlePadding": 53},
    "title": {"orient": "bottom", "frame": "group", "anchor": "middle", "font": "Liberation Serif", "fontSize": 58, "fontWeight": "normal", "color": "#000000", "offset": 25},
    "legend": {"padding": 0, "labelFont": "Liberation Serif", "labelFontSize": 58, "labelColor": "#000000", "labelOffset": 50, "rowPadding": 34, "symbolSize": 400, "symbolStrokeWidth": 4, "labelLimit": 0}
  },
  "spacing": 100,
  "resolve": {"scale": {"color": "independent", "stroke": "independent", "shape": "independent"}},
  "vconcat": [
    {
      "spacing": 150,
      "resolve": {"scale": {"color": "independent", "stroke": "independent", "shape": "independent"}},
      "hconcat": [
        {
          "data": {"name": "a"},
          "width": 1300, "height": 1132,
          "title": "(a) t=10 s",
          "encoding": {
            "x": {"field": "s", "type": "quantitative", "scale": {"domain": [-1, 1], "nice": false}, "axis": null},
            "y": {"field": "v", "type": "quantitative", "scale": {"domain": [0, 160], "nice": false}, "axis": null},
            "color": {"field": "k", "type": "nominal", "scale": {"domain": [0.5, 0.6, 0.7, 0.8], "range": ["#454545", "#e83a3a", "#1f63d9", "#2fa55c"]}, "legend": {"title": null, "orient": "none", "legendX": 127, "legendY": 94, "labelExpr": "'A₁/Aᵢₙ=' + datum.label"}}
          },
          "layer": [
            {"mark": {"type": "line", "strokeWidth": 3.5},
             "encoding": {
               "x": {"field": "s", "type": "quantitative", "scale": {"domain": [-1, 1], "nice": false}, "title": "S", "axis": {"orient": "bottom", "values": [-1, -0.75, -0.5, -0.25, 0, 0.25, 0.5, 0.75, 1], "labelExpr": "datum.value % 0.5 != 0 ? '' : datum.value == 0 ? '0' : format(datum.value, '.1f')", "tickSize": {"condition": {"test": "datum.value % 0.5 != 0", "value": -14}, "value": -26}}},
               "y": {"field": "v", "type": "quantitative", "scale": {"domain": [0, 160], "nice": false}, "title": "热应力/MPa", "axis": {"orient": "left", "values": [0, 20, 40, 60, 80, 100, 120, 140, 160], "labelExpr": "datum.value % 40 != 0 ? '' : datum.label", "tickSize": {"condition": {"test": "datum.value % 40 != 0", "value": -14}, "value": -26}}}
             }},
            {"transform": [{"filter": "datum.k == 0.5"}], "mark": {"type": "point", "shape": "square", "filled": true, "size": 170, "opacity": 1}},
            {"transform": [{"filter": "datum.k == 0.6"}], "mark": {"type": "point", "shape": "circle", "filled": true, "size": 150, "opacity": 1}},
            {"transform": [{"filter": "datum.k == 0.7"}], "mark": {"type": "point", "shape": "triangle-up", "filled": true, "size": 260, "opacity": 1}},
            {"transform": [{"filter": "datum.k == 0.8"}], "mark": {"type": "point", "shape": "triangle-down", "filled": true, "size": 260, "opacity": 1}},
            {"transform": [{"filter": "datum.s > 5"}], "mark": {"type": "point", "filled": true, "size": 400, "opacity": 1, "strokeWidth": 4},
             "encoding": {
               "x": {"field": "s", "type": "quantitative", "scale": {"domain": [-1, 1], "nice": false}, "axis": {"orient": "top", "labels": false, "title": null, "values": [-1, -0.75, -0.5, -0.25, 0, 0.25, 0.5, 0.75, 1], "tickSize": {"condition": {"test": "datum.value % 0.5 != 0", "value": -14}, "value": -26}}},
               "y": {"field": "v", "type": "quantitative", "scale": {"domain": [0, 160], "nice": false}, "axis": {"orient": "right", "labels": false, "title": null, "values": [0, 20, 40, 60, 80, 100, 120, 140, 160], "tickSize": {"condition": {"test": "datum.value % 40 != 0", "value": -14}, "value": -26}}},
               "stroke": {"field": "k", "type": "nominal", "scale": {"domain": [0.5, 0.6, 0.7, 0.8], "range": ["#454545", "#e83a3a", "#1f63d9", "#2fa55c"]}, "legend": {"title": null, "orient": "none", "legendX": 127, "legendY": 94, "labelExpr": "'A₁/Aᵢₙ=' + datum.label"}},
               "shape": {"field": "k", "type": "nominal", "scale": {"domain": [0.5, 0.6, 0.7, 0.8], "range": ["M-6.35,0H6.35M-0.5,-0.5H0.5V0.5H-0.5Z", "M-6.35,0H6.35M-0.45,0A0.45,0.45 0 1,0 0.45,0A0.45,0.45 0 1,0 -0.45,0Z", "M-6.35,0H6.35M0,-0.75L0.7,0.45H-0.7Z", "M-6.35,0H6.35M0,0.75L0.7,-0.45H-0.7Z"]}, "legend": {"title": null, "orient": "none", "legendX": 127, "legendY": 94, "labelExpr": "'A₁/Aᵢₙ=' + datum.label"}}
             }}
          ],
          "resolve": {"axis": {"x": "independent", "y": "independent"}}
        },
        {
          "data": {"name": "b"},
          "width": 1300, "height": 1132,
          "title": "(b) t=20 s",
          "encoding": {
            "x": {"field": "s", "type": "quantitative", "scale": {"domain": [-1, 1], "nice": false}, "axis": null},
            "y": {"field": "v", "type": "quantitative", "scale": {"domain": [0, 160], "nice": false}, "axis": null},
            "color": {"field": "k", "type": "nominal", "scale": {"domain": [0.5, 0.6, 0.7, 0.8], "range": ["#454545", "#e83a3a", "#1f63d9", "#2fa55c"]}, "legend": {"title": null, "orient": "none", "legendX": 127, "legendY": 94, "labelExpr": "'A₁/Aᵢₙ=' + datum.label"}}
          },
          "layer": [
            {"mark": {"type": "line", "strokeWidth": 3.5},
             "encoding": {
               "x": {"field": "s", "type": "quantitative", "scale": {"domain": [-1, 1], "nice": false}, "title": "S", "axis": {"orient": "bottom", "values": [-1, -0.75, -0.5, -0.25, 0, 0.25, 0.5, 0.75, 1], "labelExpr": "datum.value % 0.5 != 0 ? '' : datum.value == 0 ? '0' : format(datum.value, '.1f')", "tickSize": {"condition": {"test": "datum.value % 0.5 != 0", "value": -14}, "value": -26}}},
               "y": {"field": "v", "type": "quantitative", "scale": {"domain": [0, 160], "nice": false}, "title": "热应力/MPa", "axis": {"orient": "left", "values": [0, 20, 40, 60, 80, 100, 120, 140, 160], "labelExpr": "datum.value % 40 != 0 ? '' : datum.label", "tickSize": {"condition": {"test": "datum.value % 40 != 0", "value": -14}, "value": -26}}}
             }},
            {"transform": [{"filter": "datum.k == 0.5"}], "mark": {"type": "point", "shape": "square", "filled": true, "size": 170, "opacity": 1}},
            {"transform": [{"filter": "datum.k == 0.6"}], "mark": {"type": "point", "shape": "circle", "filled": true, "size": 150, "opacity": 1}},
            {"transform": [{"filter": "datum.k == 0.7"}], "mark": {"type": "point", "shape": "triangle-up", "filled": true, "size": 260, "opacity": 1}},
            {"transform": [{"filter": "datum.k == 0.8"}], "mark": {"type": "point", "shape": "triangle-down", "filled": true, "size": 260, "opacity": 1}},
            {"transform": [{"filter": "datum.s > 5"}], "mark": {"type": "point", "filled": true, "size": 400, "opacity": 1, "strokeWidth": 4},
             "encoding": {
               "x": {"field": "s", "type": "quantitative", "scale": {"domain": [-1, 1], "nice": false}, "axis": {"orient": "top", "labels": false, "title": null, "values": [-1, -0.75, -0.5, -0.25, 0, 0.25, 0.5, 0.75, 1], "tickSize": {"condition": {"test": "datum.value % 0.5 != 0", "value": -14}, "value": -26}}},
               "y": {"field": "v", "type": "quantitative", "scale": {"domain": [0, 160], "nice": false}, "axis": {"orient": "right", "labels": false, "title": null, "values": [0, 20, 40, 60, 80, 100, 120, 140, 160], "tickSize": {"condition": {"test": "datum.value % 40 != 0", "value": -14}, "value": -26}}},
               "stroke": {"field": "k", "type": "nominal", "scale": {"domain": [0.5, 0.6, 0.7, 0.8], "range": ["#454545", "#e83a3a", "#1f63d9", "#2fa55c"]}, "legend": {"title": null, "orient": "none", "legendX": 127, "legendY": 94, "labelExpr": "'A₁/Aᵢₙ=' + datum.label"}},
               "shape": {"field": "k", "type": "nominal", "scale": {"domain": [0.5, 0.6, 0.7, 0.8], "range": ["M-6.35,0H6.35M-0.5,-0.5H0.5V0.5H-0.5Z", "M-6.35,0H6.35M-0.45,0A0.45,0.45 0 1,0 0.45,0A0.45,0.45 0 1,0 -0.45,0Z", "M-6.35,0H6.35M0,-0.75L0.7,0.45H-0.7Z", "M-6.35,0H6.35M0,0.75L0.7,-0.45H-0.7Z"]}, "legend": {"title": null, "orient": "none", "legendX": 127, "legendY": 94, "labelExpr": "'A₁/Aᵢₙ=' + datum.label"}}
             }}
          ],
          "resolve": {"axis": {"x": "independent", "y": "independent"}}
        }
      ]
    },
    {
      "spacing": 150,
      "resolve": {"scale": {"color": "independent", "stroke": "independent", "shape": "independent"}},
      "hconcat": [
        {
          "data": {"name": "c"},
          "width": 1300, "height": 1132,
          "title": "(c) t=30 s",
          "encoding": {
            "x": {"field": "s", "type": "quantitative", "scale": {"domain": [-1, 1], "nice": false}, "axis": null},
            "y": {"field": "v", "type": "quantitative", "scale": {"domain": [0, 160], "nice": false}, "axis": null},
            "color": {"field": "k", "type": "nominal", "scale": {"domain": [0.5, 0.6, 0.7, 0.8], "range": ["#454545", "#e83a3a", "#1f63d9", "#2fa55c"]}, "legend": {"title": null, "orient": "none", "legendX": 127, "legendY": 94, "labelExpr": "'A₁/Aᵢₙ=' + datum.label"}}
          },
          "layer": [
            {"mark": {"type": "line", "strokeWidth": 3.5},
             "encoding": {
               "x": {"field": "s", "type": "quantitative", "scale": {"domain": [-1, 1], "nice": false}, "title": "S", "axis": {"orient": "bottom", "values": [-1, -0.75, -0.5, -0.25, 0, 0.25, 0.5, 0.75, 1], "labelExpr": "datum.value % 0.5 != 0 ? '' : datum.value == 0 ? '0' : format(datum.value, '.1f')", "tickSize": {"condition": {"test": "datum.value % 0.5 != 0", "value": -14}, "value": -26}}},
               "y": {"field": "v", "type": "quantitative", "scale": {"domain": [0, 160], "nice": false}, "title": "热应力/MPa", "axis": {"orient": "left", "values": [0, 20, 40, 60, 80, 100, 120, 140, 160], "labelExpr": "datum.value % 40 != 0 ? '' : datum.label", "tickSize": {"condition": {"test": "datum.value % 40 != 0", "value": -14}, "value": -26}}}
             }},
            {"transform": [{"filter": "datum.k == 0.5"}], "mark": {"type": "point", "shape": "square", "filled": true, "size": 170, "opacity": 1}},
            {"transform": [{"filter": "datum.k == 0.6"}], "mark": {"type": "point", "shape": "circle", "filled": true, "size": 150, "opacity": 1}},
            {"transform": [{"filter": "datum.k == 0.7"}], "mark": {"type": "point", "shape": "triangle-up", "filled": true, "size": 260, "opacity": 1}},
            {"transform": [{"filter": "datum.k == 0.8"}], "mark": {"type": "point", "shape": "triangle-down", "filled": true, "size": 260, "opacity": 1}},
            {"transform": [{"filter": "datum.s > 5"}], "mark": {"type": "point", "filled": true, "size": 400, "opacity": 1, "strokeWidth": 4},
             "encoding": {
               "x": {"field": "s", "type": "quantitative", "scale": {"domain": [-1, 1], "nice": false}, "axis": {"orient": "top", "labels": false, "title": null, "values": [-1, -0.75, -0.5, -0.25, 0, 0.25, 0.5, 0.75, 1], "tickSize": {"condition": {"test": "datum.value % 0.5 != 0", "value": -14}, "value": -26}}},
               "y": {"field": "v", "type": "quantitative", "scale": {"domain": [0, 160], "nice": false}, "axis": {"orient": "right", "labels": false, "title": null, "values": [0, 20, 40, 60, 80, 100, 120, 140, 160], "tickSize": {"condition": {"test": "datum.value % 40 != 0", "value": -14}, "value": -26}}},
               "stroke": {"field": "k", "type": "nominal", "scale": {"domain": [0.5, 0.6, 0.7, 0.8], "range": ["#454545", "#e83a3a", "#1f63d9", "#2fa55c"]}, "legend": {"title": null, "orient": "none", "legendX": 127, "legendY": 94, "labelExpr": "'A₁/Aᵢₙ=' + datum.label"}},
               "shape": {"field": "k", "type": "nominal", "scale": {"domain": [0.5, 0.6, 0.7, 0.8], "range": ["M-6.35,0H6.35M-0.5,-0.5H0.5V0.5H-0.5Z", "M-6.35,0H6.35M-0.45,0A0.45,0.45 0 1,0 0.45,0A0.45,0.45 0 1,0 -0.45,0Z", "M-6.35,0H6.35M0,-0.75L0.7,0.45H-0.7Z", "M-6.35,0H6.35M0,0.75L0.7,-0.45H-0.7Z"]}, "legend": {"title": null, "orient": "none", "legendX": 127, "legendY": 94, "labelExpr": "'A₁/Aᵢₙ=' + datum.label"}}
             }}
          ],
          "resolve": {"axis": {"x": "independent", "y": "independent"}}
        },
        {
          "data": {"name": "d"},
          "width": 1300, "height": 1132,
          "title": "(d) t=50 s",
          "encoding": {
            "x": {"field": "s", "type": "quantitative", "scale": {"domain": [-1, 1], "nice": false}, "axis": null},
            "y": {"field": "v", "type": "quantitative", "scale": {"domain": [0, 160], "nice": false}, "axis": null},
            "color": {"field": "k", "type": "nominal", "scale": {"domain": [0.5, 0.6, 0.7, 0.8], "range": ["#454545", "#e83a3a", "#1f63d9", "#2fa55c"]}, "legend": {"title": null, "orient": "none", "legendX": 127, "legendY": 94, "labelExpr": "'A₁/Aᵢₙ=' + datum.label"}}
          },
          "layer": [
            {"mark": {"type": "line", "strokeWidth": 3.5},
             "encoding": {
               "x": {"field": "s", "type": "quantitative", "scale": {"domain": [-1, 1], "nice": false}, "title": "S", "axis": {"orient": "bottom", "values": [-1, -0.75, -0.5, -0.25, 0, 0.25, 0.5, 0.75, 1], "labelExpr": "datum.value % 0.5 != 0 ? '' : datum.value == 0 ? '0' : format(datum.value, '.1f')", "tickSize": {"condition": {"test": "datum.value % 0.5 != 0", "value": -14}, "value": -26}}},
               "y": {"field": "v", "type": "quantitative", "scale": {"domain": [0, 160], "nice": false}, "title": "热应力/MPa", "axis": {"orient": "left", "values": [0, 20, 40, 60, 80, 100, 120, 140, 160], "labelExpr": "datum.value % 40 != 0 ? '' : datum.label", "tickSize": {"condition": {"test": "datum.value % 40 != 0", "value": -14}, "value": -26}}}
             }},
            {"transform": [{"filter": "datum.k == 0.5"}], "mark": {"type": "point", "shape": "square", "filled": true, "size": 170, "opacity": 1}},
            {"transform": [{"filter": "datum.k == 0.6"}], "mark": {"type": "point", "shape": "circle", "filled": true, "size": 150, "opacity": 1}},
            {"transform": [{"filter": "datum.k == 0.7"}], "mark": {"type": "point", "shape": "triangle-up", "filled": true, "size": 260, "opacity": 1}},
            {"transform": [{"filter": "datum.k == 0.8"}], "mark": {"type": "point", "shape": "triangle-down", "filled": true, "size": 260, "opacity": 1}},
            {"transform": [{"filter": "datum.s > 5"}], "mark": {"type": "point", "filled": true, "size": 400, "opacity": 1, "strokeWidth": 4},
             "encoding": {
               "x": {"field": "s", "type": "quantitative", "scale": {"domain": [-1, 1], "nice": false}, "axis": {"orient": "top", "labels": false, "title": null, "values": [-1, -0.75, -0.5, -0.25, 0, 0.25, 0.5, 0.75, 1], "tickSize": {"condition": {"test": "datum.value % 0.5 != 0", "value": -14}, "value": -26}}},
               "y": {"field": "v", "type": "quantitative", "scale": {"domain": [0, 160], "nice": false}, "axis": {"orient": "right", "labels": false, "title": null, "values": [0, 20, 40, 60, 80, 100, 120, 140, 160], "tickSize": {"condition": {"test": "datum.value % 40 != 0", "value": -14}, "value": -26}}},
               "stroke": {"field": "k", "type": "nominal", "scale": {"domain": [0.5, 0.6, 0.7, 0.8], "range": ["#454545", "#e83a3a", "#1f63d9", "#2fa55c"]}, "legend": {"title": null, "orient": "none", "legendX": 127, "legendY": 94, "labelExpr": "'A₁/Aᵢₙ=' + datum.label"}},
               "shape": {"field": "k", "type": "nominal", "scale": {"domain": [0.5, 0.6, 0.7, 0.8], "range": ["M-6.35,0H6.35M-0.5,-0.5H0.5V0.5H-0.5Z", "M-6.35,0H6.35M-0.45,0A0.45,0.45 0 1,0 0.45,0A0.45,0.45 0 1,0 -0.45,0Z", "M-6.35,0H6.35M0,-0.75L0.7,0.45H-0.7Z", "M-6.35,0H6.35M0,0.75L0.7,-0.45H-0.7Z"]}, "legend": {"title": null, "orient": "none", "legendX": 127, "legendY": 94, "labelExpr": "'A₁/Aᵢₙ=' + datum.label"}}
             }}
          ],
          "resolve": {"axis": {"x": "independent", "y": "independent"}}
        }
      ]
    },
    {
      "spacing": 150,
      "resolve": {"scale": {"color": "independent", "stroke": "independent", "shape": "independent"}},
      "hconcat": [
        {
          "data": {"name": "e"},
          "width": 1300, "height": 1132,
          "title": "(e) t=200 s",
          "encoding": {
            "x": {"field": "s", "type": "quantitative", "scale": {"domain": [-1, 1], "nice": false}, "axis": null},
            "y": {"field": "v", "type": "quantitative", "scale": {"domain": [0, 160], "nice": false}, "axis": null},
            "color": {"field": "k", "type": "nominal", "scale": {"domain": [0.5, 0.6, 0.7, 0.8], "range": ["#454545", "#e83a3a", "#1f63d9", "#2fa55c"]}, "legend": {"title": null, "orient": "none", "legendX": 127, "legendY": 94, "labelExpr": "'A₁/Aᵢₙ=' + datum.label"}}
          },
          "layer": [
            {"mark": {"type": "line", "strokeWidth": 3.5},
             "encoding": {
               "x": {"field": "s", "type": "quantitative", "scale": {"domain": [-1, 1], "nice": false}, "title": "S", "axis": {"orient": "bottom", "values": [-1, -0.75, -0.5, -0.25, 0, 0.25, 0.5, 0.75, 1], "labelExpr": "datum.value % 0.5 != 0 ? '' : datum.value == 0 ? '0' : format(datum.value, '.1f')", "tickSize": {"condition": {"test": "datum.value % 0.5 != 0", "value": -14}, "value": -26}}},
               "y": {"field": "v", "type": "quantitative", "scale": {"domain": [0, 160], "nice": false}, "title": "热应力/MPa", "axis": {"orient": "left", "values": [0, 20, 40, 60, 80, 100, 120, 140, 160], "labelExpr": "datum.value % 40 != 0 ? '' : datum.label", "tickSize": {"condition": {"test": "datum.value % 40 != 0", "value": -14}, "value": -26}}}
             }},
            {"transform": [{"filter": "datum.k == 0.5"}], "mark": {"type": "point", "shape": "square", "filled": true, "size": 170, "opacity": 1}},
            {"transform": [{"filter": "datum.k == 0.6"}], "mark": {"type": "point", "shape": "circle", "filled": true, "size": 150, "opacity": 1}},
            {"transform": [{"filter": "datum.k == 0.7"}], "mark": {"type": "point", "shape": "triangle-up", "filled": true, "size": 260, "opacity": 1}},
            {"transform": [{"filter": "datum.k == 0.8"}], "mark": {"type": "point", "shape": "triangle-down", "filled": true, "size": 260, "opacity": 1}},
            {"transform": [{"filter": "datum.s > 5"}], "mark": {"type": "point", "filled": true, "size": 400, "opacity": 1, "strokeWidth": 4},
             "encoding": {
               "x": {"field": "s", "type": "quantitative", "scale": {"domain": [-1, 1], "nice": false}, "axis": {"orient": "top", "labels": false, "title": null, "values": [-1, -0.75, -0.5, -0.25, 0, 0.25, 0.5, 0.75, 1], "tickSize": {"condition": {"test": "datum.value % 0.5 != 0", "value": -14}, "value": -26}}},
               "y": {"field": "v", "type": "quantitative", "scale": {"domain": [0, 160], "nice": false}, "axis": {"orient": "right", "labels": false, "title": null, "values": [0, 20, 40, 60, 80, 100, 120, 140, 160], "tickSize": {"condition": {"test": "datum.value % 40 != 0", "value": -14}, "value": -26}}},
               "stroke": {"field": "k", "type": "nominal", "scale": {"domain": [0.5, 0.6, 0.7, 0.8], "range": ["#454545", "#e83a3a", "#1f63d9", "#2fa55c"]}, "legend": {"title": null, "orient": "none", "legendX": 127, "legendY": 94, "labelExpr": "'A₁/Aᵢₙ=' + datum.label"}},
               "shape": {"field": "k", "type": "nominal", "scale": {"domain": [0.5, 0.6, 0.7, 0.8], "range": ["M-6.35,0H6.35M-0.5,-0.5H0.5V0.5H-0.5Z", "M-6.35,0H6.35M-0.45,0A0.45,0.45 0 1,0 0.45,0A0.45,0.45 0 1,0 -0.45,0Z", "M-6.35,0H6.35M0,-0.75L0.7,0.45H-0.7Z", "M-6.35,0H6.35M0,0.75L0.7,-0.45H-0.7Z"]}, "legend": {"title": null, "orient": "none", "legendX": 127, "legendY": 94, "labelExpr": "'A₁/Aᵢₙ=' + datum.label"}}
             }}
          ],
          "resolve": {"axis": {"x": "independent", "y": "independent"}}
        },
        {
          "data": {"name": "f"},
          "width": 1300, "height": 1132,
          "title": "(f) t=300 s",
          "encoding": {
            "x": {"field": "s", "type": "quantitative", "scale": {"domain": [-1, 1], "nice": false}, "axis": null},
            "y": {"field": "v", "type": "quantitative", "scale": {"domain": [0, 160], "nice": false}, "axis": null},
            "color": {"field": "k", "type": "nominal", "scale": {"domain": [0.5, 0.6, 0.7, 0.8], "range": ["#454545", "#e83a3a", "#1f63d9", "#2fa55c"]}, "legend": {"title": null, "orient": "none", "legendX": 127, "legendY": 94, "labelExpr": "'A₁/Aᵢₙ=' + datum.label"}}
          },
          "layer": [
            {"mark": {"type": "line", "strokeWidth": 3.5},
             "encoding": {
               "x": {"field": "s", "type": "quantitative", "scale": {"domain": [-1, 1], "nice": false}, "title": "S", "axis": {"orient": "bottom", "values": [-1, -0.75, -0.5, -0.25, 0, 0.25, 0.5, 0.75, 1], "labelExpr": "datum.value % 0.5 != 0 ? '' : datum.value == 0 ? '0' : format(datum.value, '.1f')", "tickSize": {"condition": {"test": "datum.value % 0.5 != 0", "value": -14}, "value": -26}}},
               "y": {"field": "v", "type": "quantitative", "scale": {"domain": [0, 160], "nice": false}, "title": "热应力/MPa", "axis": {"orient": "left", "values": [0, 20, 40, 60, 80, 100, 120, 140, 160], "labelExpr": "datum.value % 40 != 0 ? '' : datum.label", "tickSize": {"condition": {"test": "datum.value % 40 != 0", "value": -14}, "value": -26}}}
             }},
            {"transform": [{"filter": "datum.k == 0.5"}], "mark": {"type": "point", "shape": "square", "filled": true, "size": 170, "opacity": 1}},
            {"transform": [{"filter": "datum.k == 0.6"}], "mark": {"type": "point", "shape": "circle", "filled": true, "size": 150, "opacity": 1}},
            {"transform": [{"filter": "datum.k == 0.7"}], "mark": {"type": "point", "shape": "triangle-up", "filled": true, "size": 260, "opacity": 1}},
            {"transform": [{"filter": "datum.k == 0.8"}], "mark": {"type": "point", "shape": "triangle-down", "filled": true, "size": 260, "opacity": 1}},
            {"transform": [{"filter": "datum.s > 5"}], "mark": {"type": "point", "filled": true, "size": 400, "opacity": 1, "strokeWidth": 4},
             "encoding": {
               "x": {"field": "s", "type": "quantitative", "scale": {"domain": [-1, 1], "nice": false}, "axis": {"orient": "top", "labels": false, "title": null, "values": [-1, -0.75, -0.5, -0.25, 0, 0.25, 0.5, 0.75, 1], "tickSize": {"condition": {"test": "datum.value % 0.5 != 0", "value": -14}, "value": -26}}},
               "y": {"field": "v", "type": "quantitative", "scale": {"domain": [0, 160], "nice": false}, "axis": {"orient": "right", "labels": false, "title": null, "values": [0, 20, 40, 60, 80, 100, 120, 140, 160], "tickSize": {"condition": {"test": "datum.value % 40 != 0", "value": -14}, "value": -26}}},
               "stroke": {"field": "k", "type": "nominal", "scale": {"domain": [0.5, 0.6, 0.7, 0.8], "range": ["#454545", "#e83a3a", "#1f63d9", "#2fa55c"]}, "legend": {"title": null, "orient": "none", "legendX": 127, "legendY": 94, "labelExpr": "'A₁/Aᵢₙ=' + datum.label"}},
               "shape": {"field": "k", "type": "nominal", "scale": {"domain": [0.5, 0.6, 0.7, 0.8], "range": ["M-6.35,0H6.35M-0.5,-0.5H0.5V0.5H-0.5Z", "M-6.35,0H6.35M-0.45,0A0.45,0.45 0 1,0 0.45,0A0.45,0.45 0 1,0 -0.45,0Z", "M-6.35,0H6.35M0,-0.75L0.7,0.45H-0.7Z", "M-6.35,0H6.35M0,0.75L0.7,-0.45H-0.7Z"]}, "legend": {"title": null, "orient": "none", "legendX": 127, "legendY": 94, "labelExpr": "'A₁/Aᵢₙ=' + datum.label"}}
             }}
          ],
          "resolve": {"axis": {"x": "independent", "y": "independent"}}
        }
      ]
    }
  ]
}
